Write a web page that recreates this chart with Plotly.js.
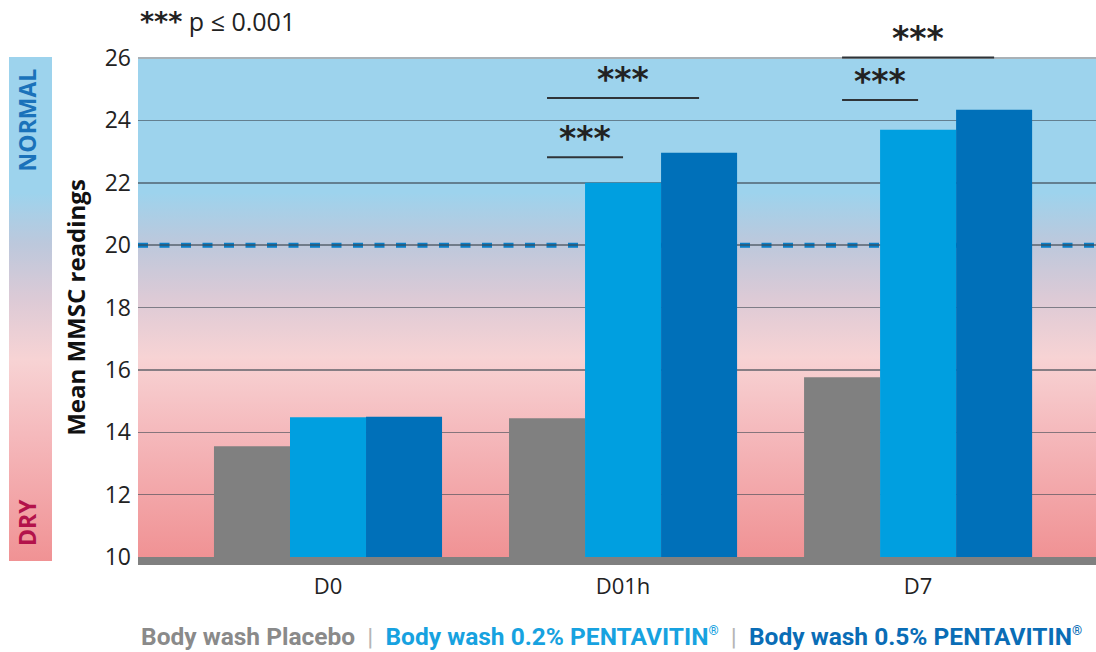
<!DOCTYPE html>
<html>
<head>
<meta charset="utf-8">
<script src="https://cdn.plot.ly/plotly-3.0.1.min.js"></script>
<style>
  html, body { margin: 0; padding: 0; background: #ffffff; }
  #chart { width: 1096px; height: 652px; }
</style>
</head>
<body>
<div id="chart"></div>
<script>
// ---------- data ----------
const categories = ['D0', 'D01h', 'D7'];
const seriesNames = ['Body wash Placebo', 'Body wash 0.2% PENTAVITIN®', 'Body wash 0.5% PENTAVITIN®'];
const placeboValues = [13.55, 14.45, 15.76];
const pentavitin02Values = [14.48, 22.0, 23.7];
const pentavitin05Values = [14.5, 22.96, 24.34];
const yTickValues = [10, 12, 14, 16, 18, 20, 22, 24, 26];
const normalThreshold = 20;
const significanceLabel = '***';
const significanceNote = '*** p ≤ 0.001';
const bracketCategory = ['D01h', 'D01h', 'D7', 'D7'];
const bracketFromSeries = [0, 0, 0, 0];
const bracketToSeries = [1, 2, 1, 2];
const bracketLevel = [22.82, 24.72, 24.65, 26.02];
const scaleTopLabel = 'NORMAL';
const scaleBottomLabel = 'DRY';

// ---------- style ----------
const seriesColors = ['#808080', '#009fe0', '#0070b9'];
const legendColors = ['#8a8a8a', '#17a2e0', '#0a6db6'];
const FONT = 'Open Sans, Roboto, sans-serif';
const yMin = 10, yMax = 26;
const bargap = 0.227;
const barW = (1 - bargap) / 3;

const gradientStops = [
  [0, '#9dd3ed'], [0.27, '#9dd3ed'], [0.37, '#bcc8dc'], [0.48, '#dccad6'],
  [0.6, '#f7d3d4'], [0.75, '#f5b9bc'], [1, '#f09294']
];
function gradientUri() {
  const stops = gradientStops.map(s => `<stop offset='${s[0]}' stop-color='${s[1]}'/>`).join('');
  const svg = `<svg xmlns='http://www.w3.org/2000/svg' width='100' height='100' viewBox='0 0 100 100' preserveAspectRatio='none'><defs><linearGradient id='g' x1='0' y1='0' x2='0' y2='1'>${stops}</linearGradient></defs><rect x='0' y='0' width='100' height='100' fill='url(#g)'/></svg>`;
  return 'data:image/svg+xml;charset=utf-8,' + encodeURIComponent(svg);
}

const xIdx = categories.map((c, i) => i);
const allSeries = [placeboValues, pentavitin02Values, pentavitin05Values];

const traces = allSeries.map((vals, s) => ({
  type: 'bar',
  x: xIdx,
  y: vals,
  base: 0,
  name: seriesNames[s],
  marker: { color: seriesColors[s], line: { width: 0 } },
  hoverinfo: 'skip',
  showlegend: false
}));

function seriesCenter(catName, s) {
  return categories.indexOf(catName) + (s - 1) * barW;
}
function toPaperY(v) { return (v - yMin) / (yMax - yMin); }

const shapes = [];
const annotations = [];

// threshold dashed line
shapes.push({
  type: 'line', xref: 'paper', x0: 0, x1: 1, yref: 'y', y0: normalThreshold, y1: normalThreshold,
  line: { color: '#0a7fc8', width: 5, dash: '10px,11.5px' }, layer: 'below'
});
// top border line
shapes.push({
  type: 'line', xref: 'paper', x0: 0, x1: 1, yref: 'paper', y0: 1, y1: 1,
  line: { color: '#a9b1b6', width: 2 }, layer: 'above'
});
// bottom gray base band
shapes.push({
  type: 'rect', xref: 'paper', x0: 0, x1: 1, yref: 'paper', y0: -8 / 499, y1: 0,
  fillcolor: '#808080', line: { width: 0 }, layer: 'above'
});

// significance brackets
bracketCategory.forEach((cat, i) => {
  const xa = seriesCenter(cat, bracketFromSeries[i]);
  const xb = seriesCenter(cat, bracketToSeries[i]);
  const py = toPaperY(bracketLevel[i]);
  shapes.push({
    type: 'line', xref: 'x', x0: xa, x1: xb, yref: 'paper', y0: py, y1: py,
    line: { color: '#2f3438', width: 2 }, layer: 'above'
  });
  annotations.push({
    xref: 'x', x: (xa + xb) / 2, yref: 'paper', y: py, yanchor: 'bottom', xanchor: 'center',
    yshift: -3, showarrow: false, text: '<b>' + significanceLabel + '</b>',
    font: { family: 'DejaVu Sans, sans-serif', size: 33, color: '#222222' }
  });
});

// note at top
annotations.push({
  xref: 'paper', x: 0.0, yref: 'paper', y: 1.075, xanchor: 'left', yanchor: 'middle',
  showarrow: false,
  text: '<span style="font-family:DejaVu Sans;font-size:27px"><b>***</b></span> ' + significanceNote.replace('*** ', ''),
  font: { family: FONT, size: 25, color: '#222222' }
});

// left scale labels
annotations.push({
  xref: 'paper', x: -111 / 958, yref: 'paper', y: toPaperY(yMax) - 0.125, xanchor: 'center', yanchor: 'middle',
  showarrow: false, textangle: -90, text: '<b>' + scaleTopLabel + '</b>',
  font: { family: FONT, size: 23, color: '#1a72ba' }
});
annotations.push({
  xref: 'paper', x: -111 / 958, yref: 'paper', y: 0.068, xanchor: 'center', yanchor: 'middle',
  showarrow: false, textangle: -90, text: '<b>' + scaleBottomLabel + '</b>',
  font: { family: FONT, size: 23, color: '#b3134b' }
});

// legend line built from series names
const sep = '<span style="color:#b5b5b5;font-weight:normal">  |  </span>';
const legendText = seriesNames.map((n, i) =>
  `<span style="color:${legendColors[i]}"><b>${n.replace('®', '<sup><span style="font-size:13px">®</span></sup>')}</b></span>`).join(sep);
annotations.push({
  xref: 'paper', x: 0.494, yref: 'paper', y: -0.16, xanchor: 'center', yanchor: 'middle',
  showarrow: false, text: legendText,
  font: { family: 'Roboto, sans-serif', size: 24.5, color: '#888888' }
});

const layout = {
  width: 1096, height: 652,
  margin: { l: 138, r: 0, t: 58, b: 95, pad: 0 },
  paper_bgcolor: '#ffffff',
  plot_bgcolor: 'rgba(0,0,0,0)',
  barmode: 'group',
  bargap: bargap,
  bargroupgap: 0,
  showlegend: false,
  font: { family: FONT, color: '#222222' },
  xaxis: {
    range: [-0.644, 2.603],
    tickvals: xIdx, ticktext: categories,
    showgrid: false, zeroline: false, showline: false, ticks: '',
    ticklabelstandoff: 14,
    tickfont: { family: FONT, size: 22, color: '#222222' },
    fixedrange: true
  },
  yaxis: {
    range: [yMin, yMax],
    tickvals: yTickValues,
    showgrid: true, gridcolor: 'rgba(60,72,82,0.6)', gridwidth: 1.5,
    zeroline: false, showline: false, ticks: '',
    ticklabelstandoff: 6,
    tickfont: { family: FONT, size: 23, color: '#222222' },
    title: { text: '<b>Mean MMSC readings</b>', font: { family: FONT, size: 24, color: '#111111' }, standoff: 12 },
    fixedrange: true
  },
  images: [
    {
      source: gradientUri(), xref: 'paper', yref: 'paper',
      x: 0, y: 1, sizex: 1, sizey: 1, xanchor: 'left', yanchor: 'top',
      sizing: 'stretch', layer: 'below'
    },
    {
      source: gradientUri(), xref: 'paper', yref: 'paper',
      x: -129 / 958, y: 1.002, sizex: 43 / 958, sizey: 1.01, xanchor: 'left', yanchor: 'top',
      sizing: 'stretch', layer: 'below'
    }
  ],
  shapes: shapes,
  annotations: annotations
};

Plotly.newPlot('chart', traces, layout, { displayModeBar: false, staticPlot: true });
</script>
</body>
</html>
